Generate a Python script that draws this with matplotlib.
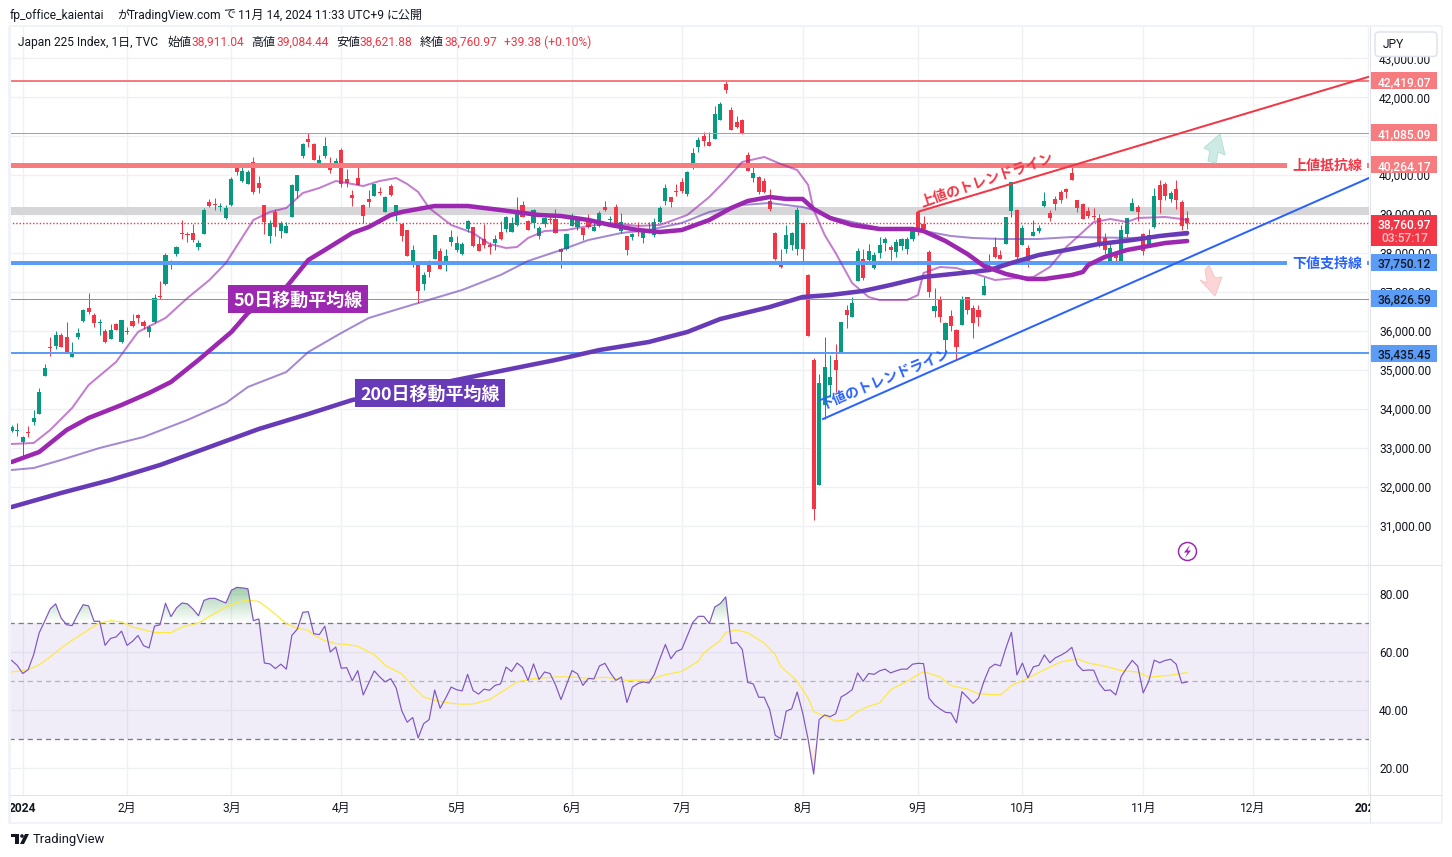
import numpy as np
import matplotlib
matplotlib.use("Agg")
import matplotlib.pyplot as plt
from matplotlib.patches import Rectangle, Polygon, Circle, FancyBboxPatch
from matplotlib.path import Path

# * Data
# daily candles
opens = [33430,33440,33158,33398,33663,33877,34853,35597,35614,35897,
         35845,35340,35854,36256,36581,36410,36213,36008,35803,36179,
         35717,35974,36247,36401,36230,35982,36230,36898,37206,37737,
         37976,38515,38481,38515,38156,38498,39311,39260,39191,38900,
         39234,40218,39850,39782,40330,39791,39226,38447,39063,38575,
         38524,38935,39602,40492,40929,40800,40304,40492,40218,40304,
         40646,39902,39491,39936,39234,39388,39474,39568,39055,39722,
         39003,38747,38584,37720,37720,37215,37796,37856,38053,37694,
         38293,38079,37976,38618,38661,38233,38353,38207,38259,38541,
         38627,38550,38721,39234,38824,38781,38447,38755,38866,38875,
         38105,38105,38704,38678,38635,38849,38575,38695,39174,38849,
         39183,38558,38430,38421,38644,38396,38593,38456,38789,39337,
         39440,39594,39825,39525,40313,40723,41006,40852,40937,41417,
         42341,41673,41365,41417,40518,39936,39953,39850,39337,38524,
         37796,38105,38207,38105,38772,37437,35256,32047,34101,34614,
         35256,35453,36540,36369,37293,37840,37823,37627,38012,38251,
         38166,38029,38191,38097,38354,39064,38739,38020,36514,36822,
         35770,36385,36026,36155,36865,36582,36540,36925,37695,38149,
         37943,38234,39081,39107,38209,38123,38448,38568,39210,39022,
         39389,39569,39646,40048,39364,39261,39073,38953,38910,38388,
         37772,37977,37738,38491,39081,39176,38491,38217,38662,39749,
         39775,39389,39638,39312,38911]
highs = [33585,33630,33312,33560,33971,34527,35152,35854,36000,35939,
         36230,35717,36076,36573,36966,36453,36299,36042,36170,36213,
         36273,36111,36436,36436,36282,36153,36949,37283,37993,37822,
         38182,38849,38541,38747,38327,39149,39388,39414,39294,39234,
         39962,40261,40218,40133,40458,39979,39226,38849,39132,38824,
         38789,39773,40005,40818,41074,40818,40518,40972,40458,40432,
         40689,40158,39619,40218,39260,39619,39773,39705,39474,39773,
         39226,38763,38584,38207,37720,37505,37822,38456,38122,38105,
         38584,38438,38293,38841,38678,38404,38738,38293,38464,38815,
         38952,38935,39448,39337,38849,39132,38704,38918,38977,39132,
         38122,38524,39020,38935,38652,39003,38763,39080,39337,38960,
         39260,39020,38438,38524,38789,38652,38789,38900,39209,39773,
         39448,39773,39919,40107,40698,40980,41117,41100,41776,41870,
         42418,41742,41519,41434,40586,40218,39979,39927,39637,38541,
         38096,38721,38533,39183,38772,37454,35299,34888,35855,35384,
         35667,36223,36668,36865,38140,38097,38234,38029,38405,38405,
         38200,38362,38380,38405,38679,39081,38953,38072,37105,36899,
         36240,36540,36043,36908,36882,36668,36668,37378,37977,38405,
         38080,38919,39817,39124,38722,38200,38850,38722,39578,39107,
         39467,39620,39680,40237,39364,39278,39176,39150,38996,38508,
         38294,38063,38722,38910,39407,39227,38508,38611,39663,39877,
         39826,39595,39877,39364,39084]
lows = [33415,33310,32705,33270,33586,33877,34853,35366,35546,35597,
        35443,35340,35803,36239,36436,36111,35905,35700,35785,36025,
        35700,35922,36093,36213,36059,35854,36213,36812,37180,37591,
        37933,38370,38293,38284,38079,38498,39191,39106,39080,38883,
        39217,40005,39833,39773,39517,39551,38490,38259,38447,38396,
        38507,38935,39414,40441,40732,40390,40304,40441,40064,40304,
        39705,39705,39217,39739,38781,39191,39465,39491,39055,39465,
        38832,38319,37933,37651,36727,37052,37394,37856,37591,37548,
        38182,38036,37950,38541,38165,38062,38139,37976,38079,38336,
        38533,38533,38704,38918,38592,38635,38361,38661,38764,38507,
        37617,38079,38695,38592,38336,38652,38567,38678,39080,38789,
        38695,38524,37950,38336,38438,38259,38507,38421,38764,39234,
        39174,39474,39534,39474,40167,40595,40749,40749,40929,41417,
        42118,41160,41211,41066,40107,39833,39517,39551,39089,37822,
        37617,38010,38079,37950,37737,35871,31148,32047,33741,34315,
        34443,35453,36069,36369,37293,37310,37781,37601,37866,38054,
        37823,37909,38080,37977,38311,38465,38551,36882,36369,36240,
        35470,36000,35256,36155,36437,35829,36137,36925,37652,37883,
        37840,38226,38936,37781,38209,37652,38440,38508,39176,38833,
        39107,39295,39415,39877,39064,38876,38893,38850,38149,37977,
        37721,37738,37721,38405,39081,38833,37952,38149,38653,39022,
        39364,39321,39124,38594,38622]
closes = [33545,33460,33286,33372,33757,34433,35049,35571,35897,35597,
          35443,35443,35939,36538,36479,36213,36239,35717,36025,36034,
          36273,36000,36127,36342,36127,36102,36847,36881,37950,37720,
          38156,38481,38464,38327,38259,39106,39209,39243,39209,39149,
          39902,40090,40107,40081,39559,39671,38798,38781,38678,38781,
          38695,39748,39996,40800,40860,40398,40390,40749,40133,40364,
          39773,39799,39423,39756,38960,39311,39773,39551,39448,39491,
          39226,38447,37933,38079,37035,37437,37523,38456,37600,37925,
          38413,38259,38233,38824,38182,38062,38207,38165,38361,38361,
          38926,38781,39055,38935,38601,39106,38652,38900,38849,38524,
          38036,38498,38926,38849,38464,38678,38678,39020,39106,38866,
          38704,38789,38079,38490,38541,38618,38524,38789,39149,39671,
          39320,39577,39594,40090,40569,40912,40877,40749,41571,41827,
          42187,41168,41237,41066,40116,40056,39568,39568,39140,37839,
          37651,38464,38515,39106,38105,35871,31431,34657,35068,34811,
          35000,36223,36411,36711,38054,37353,38054,37943,38200,38362,
          38080,38286,38362,38371,38653,38611,38619,37010,36642,36369,
          36214,36137,35598,36814,36540,36197,36369,37156,37755,37909,
          37849,38919,39817,37892,38636,37781,38534,38636,39338,38910,
          39270,39364,39578,39877,39167,38876,38953,38936,38200,38080,
          38123,37866,38593,38893,39278,39064,38054,38457,39467,39364,
          39467,39552,39364,38696,38761]

# moving averages, bar number and value
ma50_bars = [0,5,10,14,20,25,29,34,40,43,50,54,57,62,65,69,71,77,83,89,96,100,105,109,114,118,122,127,
             131,134,138,141,144,146,149,153,158,164,166,170,174,177,181,185,188,193,195,196,199,203,206,210,214]
ma50_vals = [32638,32895,33460,33768,34102,34410,34692,35257,35976,36463,37131,37824,38080,38517,38671,
             38979,39056,39210,39210,39107,38979,38953,38851,38722,38594,38542,38594,38851,39159,39338,
             39441,39390,39390,39133,38902,38722,38620,38620,38568,38311,37978,37670,37465,37336,37336,
             37439,37516,37696,37901,38080,38157,38260,38311]
ma200_bars = [0,9,18,27,36,45,54,62,71,80,89,99,107,116,123,129,138,144,149,155,160,166,173,178,182,187,193,198,204,209,214]
ma200_vals = [31483,31843,32176,32561,33023,33486,33871,34230,34461,34718,34974,35257,35513,35719,35976,
              36309,36617,36874,36925,37028,37182,37387,37490,37567,37747,37952,38106,38235,38337,38440,38517]
ma25_bars = [0,4,7,11,14,19,23,28,32,36,39,44,47,50,53,56,59,64,67,70,72,74,76,80,84,87,90,92,94,97,101,105,109,
             114,118,123,127,130,133,137,140,143,145,146,148,150,153,156,158,163,165,166,169,172,175,179,183,186,
             189,192,195,197,200,203,205,210,213,214]
ma25_vals = [33101,33126,33460,34025,34615,35205,35976,36335,36848,37310,37747,38851,39056,39159,39544,39672,
             39852,39723,39852,39929,39775,39569,39159,38722,38517,38235,38132,38157,38388,38568,38594,38697,
             38773,38697,38722,38979,39441,39877,40340,40468,40288,40134,39749,39107,38466,38004,37233,36874,
             36797,36797,36925,37490,37644,37618,37490,37310,37362,37387,37644,38157,38542,38799,38876,38799,
             38902,38928,38876,38850]
ma75_bars = [0,4,9,16,24,32,39,43,50,54,60,65,71,82,89,94,100,105,111,116,122,127,133,138,144,146,149,153,158,
             164,167,171,175,180,187,193,204,214]
ma75_vals = [32433,32484,32690,32998,33280,33717,34153,34564,34949,35462,35950,36335,36592,37054,37439,37798,
             38080,38337,38517,38594,38774,39056,39236,39287,39184,39107,38928,38799,38645,38594,38543,38440,
             38389,38363,38363,38414,38389,38466]

# RSI for every bar
rsi_vals = [57.1,55.4,52.6,53.9,59.1,66.6,70.6,74.8,76.6,71.7,69.4,69.1,72.9,76.3,75.9,70.6,70.6,62.3,64.7,65.2,
            67.2,62.3,63.7,65.7,62.2,61.4,68.9,69.4,76.8,72.2,75.2,76.9,76.6,74.8,72.5,77.8,78.5,78.5,77.7,76.9,
            81.3,82.3,82.1,81.8,70.8,71.4,56.2,55.9,54.3,55.8,54.1,65.7,67.9,73.7,73.9,66.3,66.0,68.9,60.0,61.7,
            54.4,54.6,50.1,53.6,45.2,49.3,53.5,51.4,49.7,50.8,47.6,39.8,35.8,37.4,30.4,35.3,36.7,46.9,40.6,44.1,
            47.9,47.0,46.6,52.3,46.7,45.5,47.2,46.8,48.5,49.0,54.8,53.3,56.2,54.7,50.2,55.9,50.5,53.1,52.6,48.7,
            43.6,48.7,53.6,52.5,48.5,50.9,50.7,55.2,
            56.1,52.8,50.2,51.4,42.6,47.9,49.1,49.7,49.3,52.3,57.6,62.6,57.7,60.2,61.0,65.6,70.2,72.3,72.3,69.8,
            75.5,76.7,79.0,62.9,63.3,60.9,49.5,49.0,44.4,44.4,40.1,31.3,30.1,39.6,40.4,46.2,39.0,29.8,17.9,36.7,
            38.3,37.7,38.7,44.5,45.6,47.0,52.8,49.9,52.6,52.3,53.5,54.1,52.8,53.5,54.1,54.1,55.8,56.1,56.0,44.1,
            41.8,40.4,39.2,39.0,35.6,46.3,44.4,42.3,44.1,49.9,54.5,55.8,55.2,61.4,66.8,52.1,56.2,51.1,54.9,55.4,
            59.0,56.3,58.0,58.9,60.0,61.6,55.6,53.6,53.8,53.7,49.1,46.7,46.9,45.2,51.6,54.5,57.1,55.1,45.9,49.9,
            57.2,56.3,57.1,57.5,55.8,49.3,49.7]
rsi_ma_bars = [0,3,5,7,9,11,14,16,18,20,22,24,26,29,31,34,36,39,41,43,45,47,50,52,54,55,57,59,61,63,66,68,71,73,
               75,77,80,82,84,87,90,92,95,99,102,105,108,110,112,116,119,122,125,126,129,130,132,134,137,139,140,
               143,145,146,149,150,152,154,156,158,160,163,165,166,169,171,174,176,180,182,185,188,191,194,196,
               199,202,205,207,211,214]
rsi_ma_vals = [53.1,53.9,55.6,58.3,61.4,64.0,67.7,70.0,70.8,70.4,68.6,67.7,66.7,66.7,68.6,70.0,72.3,75.5,77.1,77.9,
               77.4,74.6,69.8,68.2,67.5,65.8,63.9,62.9,62.6,62.0,59.1,55.4,52.5,48.2,44.5,43.3,42.3,42.0,42.1,43.6,
               47.2,49.7,50.8,51.4,51.4,50.9,51.3,50.8,50.2,50.4,52.2,53.3,56.8,59.7,64.0,66.8,67.6,66.6,63.1,59.1,
               55.1,49.9,44.1,39.5,37.0,36.1,36.7,39.5,41.3,42.4,47.0,49.9,52.2,53.2,51.4,48.4,47.2,45.6,45.2,48.4,
               51.0,53.9,56.6,57.6,56.2,55.1,53.6,53.1,51.3,52.0,52.9]

# horizontal levels and trend lines
level_42419 = 42419.07
level_41085 = 41085.09
level_40264 = 40264.17
level_grey = 39080
last_close = 38760.97
level_37750 = 37750.12
level_36826 = 36826.59
level_35435 = 35435.45
upper_trend_bars = [165.05, 247.1]
upper_trend_vals = [39064, 42529]
lower_trend_bars = [147.7, 247.1]
lower_trend_vals = [33742, 39929]

# axes ticks
price_ticks = list(range(31000, 44000, 1000))
hidden_price_ticks = [41000]  # sits fully behind a price tag in the picture
rsi_ticks = [20, 40, 60, 80]
month_bars = [2, 21, 40, 60, 81, 102, 122, 144, 165, 184, 206, 226, 247]
month_labels = ["2024", "2月", "3月", "4月", "5月", "6月", "7月", "8月", "9月", "10月", "11月", "12月", "2025"]

# * Style
W, H = 1452, 857
RED = "#f23645"
GREEN = "#089981"
SOFT_RED = "#f77c80"
SOFT_BLUE = "#5b9cf6"
BLUE = "#2962ff"
INK = "#131722"
GRID = "#eff0f3"
EDGE = "#e0e3eb"
FRAME = "#f0f3fa"
SANS = ["Roboto", "Noto Sans CJK JP", "DejaVu Sans"]
CJK = ["Noto Sans CJK JP", "DejaVu Sans"]
plt.rcParams["font.family"] = SANS

def pt(px):
    """ pixels to points at dpi 100 """
    return px * 0.72

def make_axes(left, top, right, bottom):
    return fig.add_axes([left / W, 1 - bottom / H, (right - left) / W, (bottom - top) / H])

fig = plt.figure(figsize=(W / 100, H / 100), dpi=100, facecolor="white")
ax = make_axes(9, 27, 1369, 565)
ax_rsi = make_axes(9, 565, 1369, 795)
ax_px = fig.add_axes([0, 0, 1, 1], zorder=10)
ax_px.set_xlim(0, W)
ax_px.set_ylim(H, 0)
ax_px.axis("off")

XMIN, XMAX = -0.49, 247.1
YMIN, YMAX = 29994, 43805

def price_y(p):
    return 27 + (YMAX - p) / (YMAX - YMIN) * (565 - 27)

for a in (ax, ax_rsi):
    a.set_xlim(XMIN, XMAX)
    for s in a.spines.values():
        s.set_visible(False)
    a.yaxis.tick_right()
    a.set_axisbelow(True)
    a.grid(True, color=GRID, lw=pt(1.3))
    a.set_xticks(month_bars)
    a.tick_params(length=0, labelsize=pt(12), colors=INK)
    a.tick_params(axis="y", pad=pt(10))

# * Price pane
ax.set_ylim(YMIN, YMAX)
ax.set_yticks(price_ticks)
ax.set_yticklabels(["" if v in hidden_price_ticks else f"{v:,.2f}" for v in price_ticks], va="center_baseline")
ax.tick_params(axis="x", labelbottom=False)

bars = np.arange(len(closes))
o = np.array(opens)
c = np.array(closes)
colors = [GREEN if cc >= oo else RED for oo, cc in zip(o, c)]

ax.hlines(level_grey, XMIN, XMAX, color="#d6d6d8", lw=pt(8), zorder=1)
ax.vlines(bars, lows, highs, color=colors, lw=pt(1), zorder=2)
body_low = np.minimum(o, c)
body_high = np.maximum(o, c)
ax.bar(bars, np.maximum(body_high - body_low, 25), bottom=body_low, width=0.75, color=colors, zorder=3)

ax.hlines(level_42419, XMIN, XMAX, color=SOFT_RED, lw=pt(2), zorder=4)
ax.hlines(level_41085, XMIN, XMAX, color=SOFT_RED, lw=pt(1), zorder=4)
ax.hlines(level_40264, XMIN, XMAX, color=SOFT_RED, lw=pt(5), zorder=4)
ax.hlines(level_37750, XMIN, XMAX, color=SOFT_BLUE, lw=pt(4), zorder=4)
ax.hlines(level_36826, XMIN, XMAX, color=SOFT_BLUE, lw=pt(1), zorder=4)
ax.hlines(level_35435, XMIN, XMAX, color=SOFT_BLUE, lw=pt(2), zorder=4)
ax.hlines(last_close, XMIN, XMAX, color=RED, lw=pt(1.4), linestyles=(0, (1, 1.4)), zorder=4)

ax.plot(ma75_bars, ma75_vals, color="#673ab7", alpha=0.6, lw=pt(2), zorder=5)
ax.plot(ma25_bars, ma25_vals, color="#9c27b0", alpha=0.6, lw=pt(2), zorder=5)
ax.plot(ma200_bars, ma200_vals, color="#673ab7", lw=pt(4.5), zorder=6, solid_capstyle="round")
ax.plot(ma50_bars, ma50_vals, color="#9c27b0", lw=pt(4.5), zorder=6, solid_capstyle="round")

ax.plot(upper_trend_bars, upper_trend_vals, color=RED, lw=pt(2), zorder=7)
ax.plot(lower_trend_bars, lower_trend_vals, color=BLUE, lw=pt(2), zorder=7)

# * RSI pane
ax_rsi.set_ylim(10.7, 90)
ax_rsi.set_yticks(rsi_ticks)
ax_rsi.set_yticklabels([f"{v:.2f}" for v in rsi_ticks], va="center_baseline")
ax_rsi.axhspan(30, 70, color="#7e57c2", alpha=0.1, lw=0, zorder=1)
ax_rsi.axhline(70, color="#787b86", lw=pt(1.3), ls=(0, (4, 3)), zorder=2)
ax_rsi.axhline(30, color="#787b86", lw=pt(1.3), ls=(0, (4, 3)), zorder=2)
ax_rsi.axhline(50, color="#787b86", alpha=0.5, lw=pt(1.3), ls=(0, (4, 3)), zorder=2)

rsi = np.array(rsi_vals)
rsi_bars = np.arange(len(rsi))

def gradient_fill(level, far, rgb, strength, mask):
    poly = ax_rsi.fill_between(rsi_bars, level, rsi, where=mask, interpolate=True, visible=False)
    clip = Path.make_compound_path(*poly.get_paths())
    img = np.zeros((64, 2, 4))
    img[..., :3] = rgb
    img[..., 3] = np.linspace(0, strength, 64)[:, None]
    im = ax_rsi.imshow(img, origin="lower", aspect="auto", zorder=3,
                       extent=(XMIN, XMAX, level, far))
    # image rows run from the level line outwards
    if far < level:
        im.set_extent((XMIN, XMAX, far, level))
        im.set_data(img[::-1])
    im.set_clip_path(clip, transform=ax_rsi.transData)

gradient_fill(70, 83, (0.30, 0.65, 0.35), 0.55, rsi >= 70)
gradient_fill(30, 18, (0.95, 0.45, 0.35), 0.35, rsi <= 30)
ax_rsi.set_xlim(XMIN, XMAX)
ax_rsi.set_ylim(10.7, 90)

ax_rsi.plot(rsi_bars, rsi, color="#7e57c2", lw=pt(1.2), zorder=5)
ax_rsi.plot(rsi_ma_bars, rsi_ma_vals, color="#ffe93b", lw=pt(1.2), zorder=4)

ax_rsi.set_xticklabels(month_labels, fontsize=pt(12), color=INK)
ticklabels = ax_rsi.get_xticklabels()
for i in (0, len(ticklabels) - 1):
    ticklabels[i].set_fontweight("bold")
ax_rsi.tick_params(axis="x", pad=pt(7))

# * Overlay : frame, text, tags
ax_px.add_patch(Rectangle((1369.5, 795), 72, 27, fc="white", ec="none"))
ax_px.add_patch(Rectangle((1371, 27), 71, 30, fc="white", ec="none"))
for xs, ys, col, lw in [((9, 1442), (26, 26), FRAME, 2), ((9, 1442), (823, 823), FRAME, 2),
                        ((1442, 1442), (26, 823), FRAME, 2), ((9, 9), (26, 823), FRAME, 3),
                        ((9, 1442), (565, 565), EDGE, 1), ((9, 1442), (795, 795), EDGE, 1),
                        ((1369.5, 1369.5), (26, 823), EDGE, 1)]:
    ax_px.plot(xs, ys, color=col, lw=pt(lw), solid_capstyle="butt")

title_parts = [(10, "fp_office_kaientai"), (117, "が"), (127.7, "TradingView.com"), (223, "で"),
               (238.4, "11月 14, 2024 11:33 UTC+9"), (387, "に公開")]
for x, s in title_parts:
    ax_px.text(x, 15, s, fontsize=pt(12), color=INK, va="center")
header = [(18, "Japan 225 Index, 1日, TVC", INK), (167.5, "始値", INK), (191.5, "38,911.04", RED),
          (251.5, "高値", INK), (276, "39,084.44", RED), (336, "安値", INK), (359.5, "38,621.88", RED),
          (420, "終値", INK), (444, "38,760.97", RED), (504.5, "+39.38 (+0.10%)", RED)]
for x, s, col in header:
    ax_px.text(x, 42, s, fontsize=pt(12), color=col, va="center")

# currency box
ax_px.add_patch(FancyBboxPatch((1375, 32), 62, 24.5, boxstyle="round,pad=0,rounding_size=4",
                               fc="white", ec=EDGE, lw=pt(1.5)))
ax_px.text(1383, 44.5, "JPY", fontsize=pt(12), color=INK, va="center")

# price tags
price_tags = [(level_42419, "42,419.07", SOFT_RED, "white"), (level_41085, "41,085.09", SOFT_RED, "white"),
              (level_40264, "40,264.17", SOFT_RED, "white"), (level_37750, "37,750.12", SOFT_BLUE, INK),
              (level_36826, "36,826.59", SOFT_BLUE, INK), (level_35435, "35,435.45", SOFT_BLUE, INK)]
for p, s, bg, fg in price_tags:
    y = price_y(p)
    ax_px.add_patch(Rectangle((1371, y - 8.5), 66, 17, fc=bg, ec="none"))
    ax_px.text(1404.5, y, s, fontsize=pt(12), color=fg, fontweight="medium", ha="center", va="center_baseline")
y = price_y(last_close)
ax_px.add_patch(Rectangle((1371, y - 8), 66, 31, fc=RED, ec="none"))
ax_px.text(1404.5, y, "38,760.97", fontsize=pt(12), color="white", fontweight="medium", ha="center", va="center_baseline")
ax_px.text(1404.5, y + 14, "03:57:17", fontsize=pt(12), color="#fcc4c8", fontweight="medium", ha="center", va="center_baseline")

# level captions
for p, s, col in [(level_40264, "上値抵抗線", RED), (level_37750, "下値支持線", BLUE)]:
    y = price_y(p)
    ax_px.add_patch(Rectangle((1287, y - 5), 80, 10, fc="white", ec="none"))
    ax_px.text(1327, y - 0.5, s, fontsize=pt(14), color=col, fontweight="bold", ha="center",
               va="center_baseline", family=CJK)

# moving average captions
for x0, y0, x1, y1, s, bg in [(228, 285, 368, 313, "50日移動平均線", "#9c27b0"),
                              (355, 379, 505, 407, "200日移動平均線", "#673ab7")]:
    ax_px.add_patch(Rectangle((x0, y0), x1 - x0, y1 - y0, fc=bg, ec="none"))
    ax_px.text((x0 + x1) / 2, (y0 + y1) / 2, s, fontsize=pt(18), fontweight="bold", color="white",
               ha="center", va="center_baseline", family=CJK)

# trend line captions
ax_px.text(987, 180, "上値のトレンドライン", fontsize=pt(14), fontweight="bold", color=RED, rotation=19,
           ha="center", va="center", rotation_mode="anchor", family=CJK)
ax_px.text(885, 379, "下値のトレンドライン", fontsize=pt(14), fontweight="bold", color=BLUE, rotation=22.5,
           ha="center", va="center", rotation_mode="anchor", family=CJK)

# arrows
ax_px.add_patch(Polygon([(1220, 134), (1225, 155), (1218, 152), (1216, 163), (1208, 161), (1210, 151), (1204, 148)],
                        closed=True, fc="#cdebe4", ec="#b5e0d6", lw=pt(1)))
ax_px.add_patch(Polygon([(1215, 296), (1222, 277), (1215, 278), (1209, 265), (1205, 270), (1207, 283), (1200, 280)],
                        closed=True, fc="#fcd5d7", ec="#f9c5c8", lw=pt(1)))

# lightning badge
ax_px.add_patch(Circle((1187.5, 551.5), 9, fc="white", ec="#9c27b0", lw=pt(1.5)))
ax_px.add_patch(Polygon([(1190, 545), (1184, 552.5), (1187.5, 552.5), (1185, 558), (1191, 550.5), (1187.5, 550.5)],
                        closed=True, fc="#9c27b0", ec="none"))

# logo
ax_px.add_patch(Rectangle((11, 834), 8, 3, fc=INK, ec="none"))
ax_px.add_patch(Rectangle((15, 837), 4, 7, fc=INK, ec="none"))
ax_px.add_patch(Circle((22, 836), 1.8, fc=INK, ec="none"))
ax_px.add_patch(Polygon([(25, 834), (29, 834), (24, 844), (20, 844)], closed=True, fc=INK, ec="none"))
ax_px.text(33, 840, "TradingView", fontsize=pt(13), color=INK, va="center", family=SANS)

fig.savefig("out.png", dpi=100)
